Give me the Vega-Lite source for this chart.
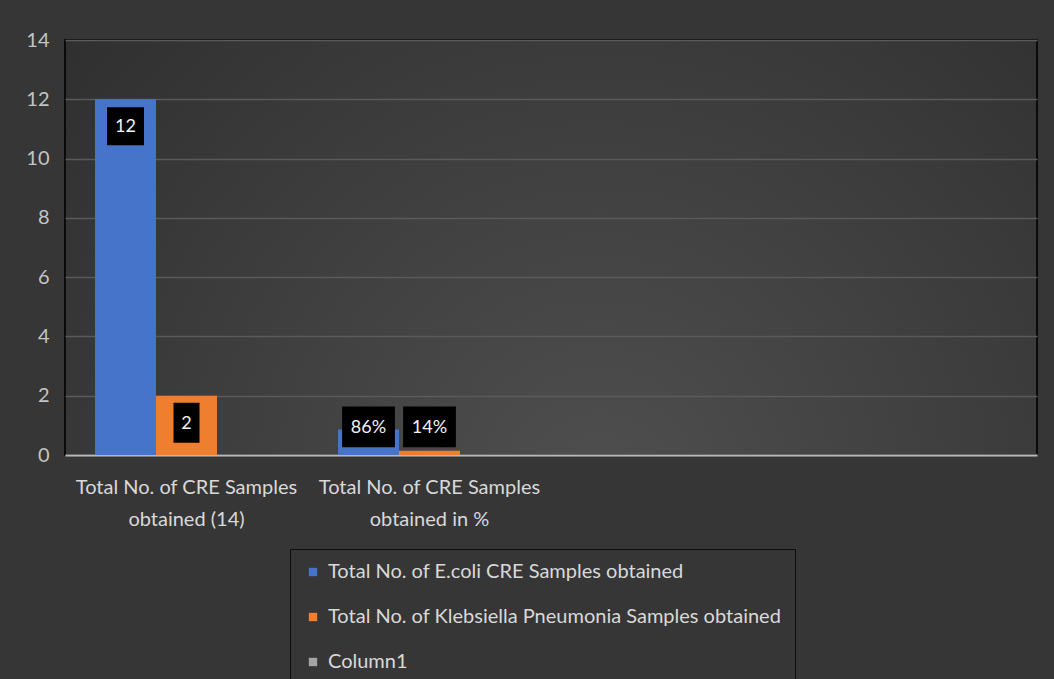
{
  "$schema": "https://vega.github.io/schema/vega-lite/v6.json",
  "width": 972,
  "height": 415,
  "autosize": {"type": "none"},
  "padding": {"left": 65, "top": 40, "right": 17, "bottom": 224},
  "background": "#363636",
  "config": {
    "font": "Lato",
    "view": {
      "stroke": "#0a0a0a",
      "strokeWidth": 2,
      "fill": {
        "gradient": "radial",
        "x1": 0.55, "y1": 0.75, "r1": 0,
        "x2": 0.55, "y2": 0.75, "r2": 0.8,
        "stops": [
          {"offset": 0, "color": "#4f4f4f"},
          {"offset": 1, "color": "#2c2c2c"}
        ]
      }
    }
  },
  "data": {
    "values": [
      {"category": "Total No. of CRE Samples obtained (14)", "series": "Total No. of  E.coli CRE Samples obtained", "value": 12, "label": "12"},
      {"category": "Total No. of CRE Samples obtained (14)", "series": "Total No. of Klebsiella Pneumonia Samples obtained", "value": 2, "label": "2"},
      {"category": "Total No. of CRE Samples obtained in %", "series": "Total No. of  E.coli CRE Samples obtained", "value": 0.86, "label": "86%"},
      {"category": "Total No. of CRE Samples obtained in %", "series": "Total No. of Klebsiella Pneumonia Samples obtained", "value": 0.14, "label": "14%"}
    ]
  },
  "encoding": {
    "x": {
      "field": "category",
      "type": "nominal",
      "sort": null,
      "scale": {
        "domain": ["Total No. of CRE Samples obtained (14)", "Total No. of CRE Samples obtained in %", " ", "  "],
        "paddingInner": 0.247,
        "paddingOuter": 0.1235
      },
      "axis": {
        "title": null,
        "labelAngle": 0,
        "labelExpr": "split(replace(datum.value, ' obtained', '|obtained'), '|')",
        "labelColor": "#d9d9d9",
        "labelFontSize": 20,
        "labelLineHeight": 32,
        "labelPadding": 22,
        "labelBaseline": "top",
        "labelLimit": 400,
        "ticks": false,
        "domainColor": "#b8b8b8",
        "domainWidth": 2
      }
    },
    "xOffset": {
      "field": "series",
      "type": "nominal",
      "sort": null,
      "scale": {
        "domain": ["Total No. of  E.coli CRE Samples obtained", "Total No. of Klebsiella Pneumonia Samples obtained", "Column1"],
        "paddingInner": 0,
        "paddingOuter": 0
      }
    }
  },
  "layer": [
    {
      "mark": {"type": "bar"},
      "encoding": {
        "y": {
          "field": "value",
          "type": "quantitative",
          "scale": {"domain": [0, 14], "nice": false},
          "axis": {
            "title": null,
            "values": [0, 2, 4, 6, 8, 10, 12, 14],
            "domain": false,
            "ticks": false,
            "grid": true,
            "gridColor": "#5a5a5a",
            "gridWidth": 1.5,
            "labelColor": "#c4c4c4",
            "labelFontSize": 20,
            "labelPadding": 16
          }
        },
        "color": {
          "field": "series",
          "type": "nominal",
          "sort": null,
          "scale": {
            "domain": ["Total No. of  E.coli CRE Samples obtained", "Total No. of Klebsiella Pneumonia Samples obtained", "Column1"],
            "range": ["#4674cb", "#ef7e2f", "#a5a5a5"]
          },
          "legend": {
            "orient": "none",
            "legendX": 225,
            "legendY": 509,
            "title": null,
            "direction": "vertical",
            "strokeColor": "#0d0d0d",
            "padding": 13,
            "labelColor": "#d9d9d9",
            "labelFontSize": 20,
            "labelLimit": 700,
            "labelOffset": 5,
            "symbolType": "square",
            "symbolSize": 70,
            "symbolStrokeWidth": 0,
            "symbolOpacity": 1,
            "rowPadding": 25
          }
        }
      }
    },
    {
      "transform": [{"filter": "datum.value >= 1"}],
      "encoding": {
        "y": {"field": "value", "type": "quantitative"}
      },
      "layer": [
        {
          "transform": [{"filter": "datum.label == '12'"}],
          "mark": {"type": "point", "filled": true, "color": "#000000", "opacity": 1, "size": 1600, "yOffset": 27, "strokeWidth": 0, "shape": "M-0.925,-0.95H0.925V0.95H-0.925Z"}
        },
        {
          "transform": [{"filter": "datum.label == '2'"}],
          "mark": {"type": "point", "filled": true, "color": "#000000", "opacity": 1, "size": 1600, "yOffset": 27, "strokeWidth": 0, "shape": "M-0.65,-1H0.65V1H-0.65Z"}
        },
        {
          "mark": {"type": "text", "color": "#f2f2f2", "fontSize": 18, "baseline": "middle", "align": "center", "yOffset": 28},
          "encoding": {"text": {"field": "label"}}
        }
      ]
    },
    {
      "transform": [{"filter": "datum.value < 1"}],
      "encoding": {
        "y": {"datum": 0.95, "type": "quantitative"}
      },
      "layer": [
        {
          "mark": {"type": "point", "filled": true, "color": "#000000", "opacity": 1, "size": 1600, "strokeWidth": 0, "shape": "M-1.32,-1.02H1.32V1.02H-1.32Z"}
        },
        {
          "mark": {"type": "text", "color": "#f2f2f2", "fontSize": 18, "baseline": "middle", "align": "center", "yOffset": 1},
          "encoding": {"text": {"field": "label"}}
        }
      ]
    }
  ]
}
